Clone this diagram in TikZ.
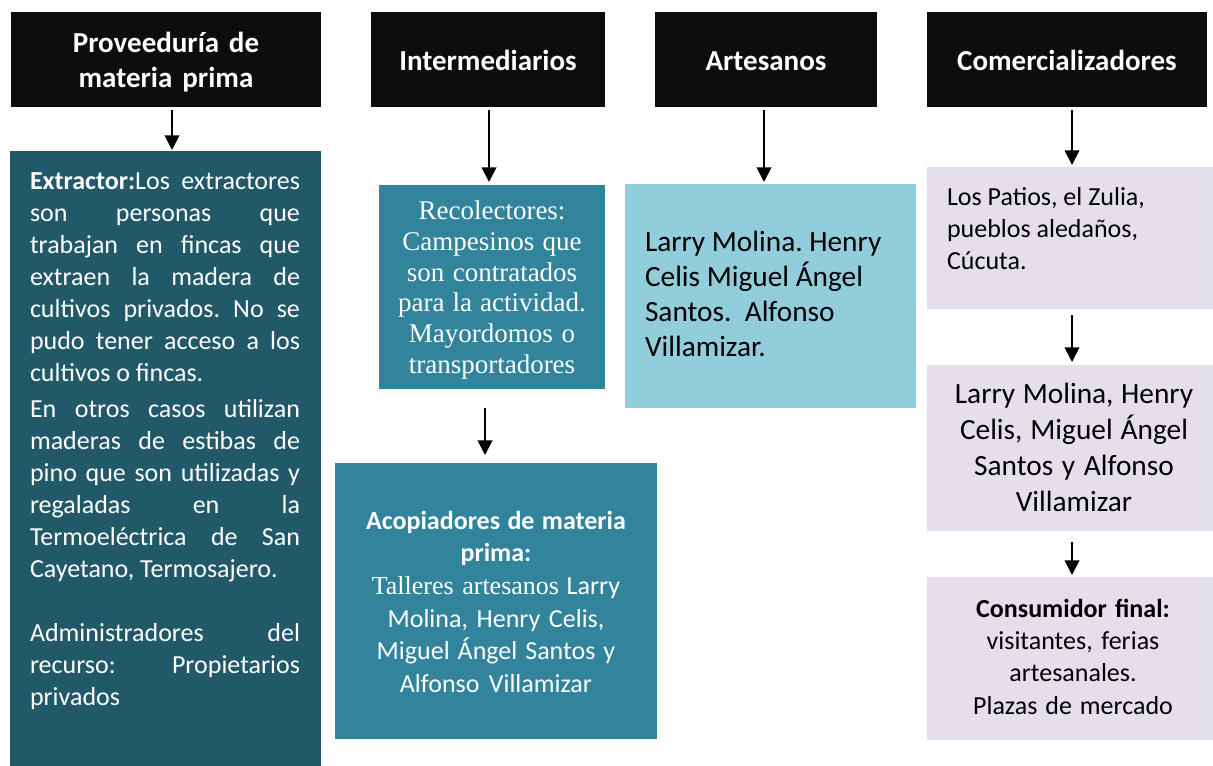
\documentclass[tikz,border=0pt]{standalone}
\usepackage{fontspec}
\setmainfont{Carlito}
\newfontfamily\tnr{Liberation Serif}
\usetikzlibrary{arrows.meta,calc}
\definecolor{hdr}{HTML}{0D0D0D}
\definecolor{dteal}{HTML}{215968}
\definecolor{teal2}{HTML}{31849B}
\definecolor{lblue}{HTML}{92CDDC}
\definecolor{lav}{HTML}{E5DFEC}
\definecolor{lavline}{HTML}{DCE3F0}
\newcommand\J[1]{\makebox[202.5pt][s]{\spaceskip=0.23em plus 1fil\relax #1}}
\newcommand\ns{\spaceskip=0pt\xspaceskip=0pt\frenchspacing}
\begin{document}
\begin{tikzpicture}[x=0.75pt,y=-0.75pt,
  box/.style={rectangle, inner sep=0pt, outer sep=0pt},
  sz/.style 2 args={minimum width=#1*0.75pt, minimum height=#2*0.75pt},
  hdrbox/.style={box, fill=hdr, text=white, font=\fontsize{21.75}{26.5}\selectfont\bfseries, align=center, text height=17.5pt, text depth=0.5pt},
  lavbox/.style={box, fill=lav, draw=lavline, line width=0.5pt},
  txt/.style={inner sep=0pt, outer sep=0pt},
  arr/.style={-{Triangle[width=11pt,length=11pt]}, line width=1.4pt}
]
\useasboundingbox (0,0) rectangle (1213,766);

% headers
\node[hdrbox, sz={310}{95}, text width=225pt, text height=16pt, text depth=26.5pt] (h1) at (166,59.5) {\ns Proveeduría de\\materia prima};
\node[hdrbox, sz={234}{95}] (h2) at (488,59.5) {\ns Intermediarios};
\node[hdrbox, sz={222}{95}] (h3) at (766,59.5) {\ns Artesanos};
\node[hdrbox, sz={280}{95}] (h4) at (1067,59.5) {\ns Comercializadores};

% boxes
\node[box, fill=dteal, sz={311}{615}] (b1) at (165.5,458.5) {};
\node[box, fill=teal2, sz={226}{204}] (b2) at (492,287) {};
\node[box, fill=teal2, sz={322}{276}] (b3) at (496,601) {};
\node[box, fill=lblue, sz={291}{224}] (b4) at (770.5,296) {};
\node[lavbox, sz={285}{141}] (c1) at (1069.5,237.5) {};
\node[lavbox, sz={285}{165}] (c2) at (1069.5,447.5) {};
\node[lavbox, sz={285}{162}] (c3) at (1069.5,658) {};

% texts
\node[txt, anchor=base west, text width=202.5pt, align=left, text=white,
      font=\fontsize{19.5}{24}\selectfont] (t1) at (30,190) {\ns
\J{\textbf{Extractor:}Los extractores}\\
\J{son personas que}\\
\J{trabajan en fincas que}\\
\J{extraen la madera de}\\
\J{cultivos privados. No se}\\
\J{pudo tener acceso a los}\\
cultivos o fincas.\\[3pt]
\J{En otros casos utilizan}\\
\J{maderas de estibas de}\\
\J{pino que son utilizadas y}\\
\J{regaladas en la}\\
\J{Termoeléctrica de San}\\
Cayetano, Termosajero.\\[24pt]
\J{Administradores del}\\
\J{recurso: Propietarios}\\
privados};

\node[txt, anchor=base, text width=170pt, align=center, text=white,
      font=\tnr\fontsize{20.25}{23}\selectfont] (t2) at (492,220)
  {\ns Recolectores:\\Campesinos que\\son contratados\\para la actividad.\\Mayordomos o\\transportadores};

\node[txt, anchor=base, text width=235pt, align=center, text=white,
      font=\fontsize{19.5}{24.5}\selectfont] (t3) at (496,529)
  {\ns\textbf{Acopiadores de materia}\\\textbf{prima:}\\{\tnr Talleres artesanos} Larry\\Molina, Henry Celis,\\Miguel Ángel Santos y\\Alfonso Villamizar};

\node[txt, anchor=base west, text width=200pt, align=left, text=black,
      font=\fontsize{22}{26.25}\selectfont] (t4) at (645,252)
  {\ns Larry Molina. Henry\\Celis Miguel Ángel\\Santos.\ \ Alfonso\\Villamizar.};

\node[txt, anchor=base west, text width=200pt, align=left, text=black,
      font=\fontsize{19.5}{24}\selectfont] (t5) at (947,206)
  {\ns Los Patios, el Zulia,\\pueblos aledaños,\\Cúcuta.};

\node[txt, anchor=base, text width=205pt, align=center, text=black,
      font=\fontsize{22}{27}\selectfont] (t6) at (1074,403)
  {\ns Larry Molina, Henry\\Celis, Miguel Ángel\\Santos y Alfonso\\Villamizar};

\node[txt, anchor=base, text width=205pt, align=center, text=black,
      font=\fontsize{19.5}{24.25}\selectfont] (t7) at (1073,617)
  {\ns\textbf{Consumidor final:}\\visitantes, ferias\\artesanales.\\Plazas de mercado};

% arrows
\draw[arr] ($(h1.south)+(6,3)$) -- ($(b1.north)+(6.5,-1)$);
\draw[arr] ($(h2.south)+(1,3)$) -- ($(b2.north)+(-3,-3)$);
\draw[arr] ($(b2.south)+(-7,19)$) -- ($(b3.north)+(-11,-8)$);
\draw[arr] ($(h3.south)+(-2,3)$) -- ($(b4.north)+(-6.5,-2)$);
\draw[arr] ($(h4.south)+(5,3)$) -- ($(c1.north)+(2.5,-2)$);
\draw[arr] ($(c1.south)+(2.5,7)$) -- ($(c2.north)+(2.5,-3)$);
\draw[arr] ($(c2.south)+(2.5,12)$) -- ($(c3.north)+(2.5,-2)$);
\end{tikzpicture}
\end{document}
